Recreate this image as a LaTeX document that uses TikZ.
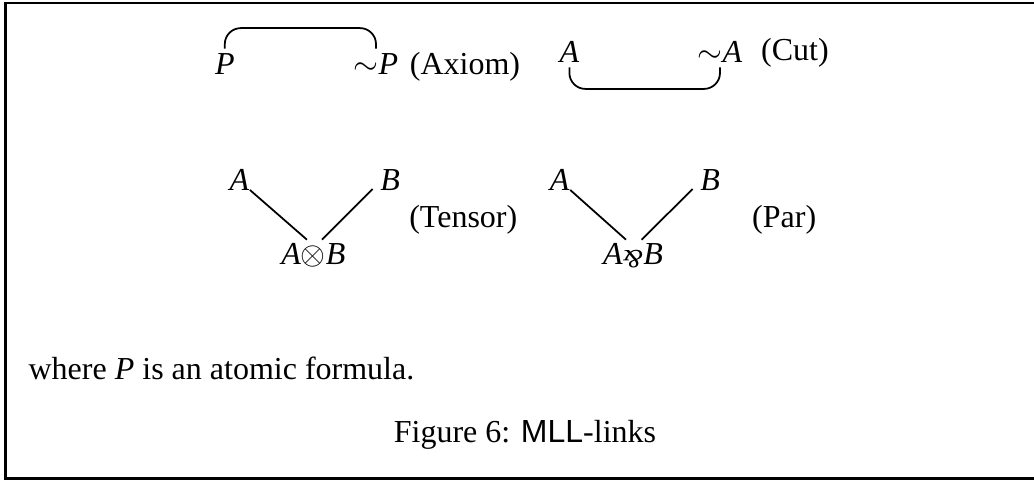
\documentclass[tikz,border=0pt]{standalone}
\usepackage{fontspec}
\setmainfont{Liberation Serif}
\setsansfont{Liberation Sans}
\usepackage{graphicx}
\newcommand{\parrsym}{\raisebox{-1.2pt}{\scalebox{0.82}{\rotatebox[origin=c]{180}{\textit{\&}}}}}

\begin{document}
\begin{tikzpicture}[x=0.3125pt,y=0.3125pt,
  fml/.style={inner sep=0pt,anchor=base},
  link/.style={line width=0.55pt},
  axlink/.style={link,rounded corners=5pt}]
\useasboundingbox (0,0) rectangle (1034,480);
% ----- frame, open on the right -----
\draw[line width=0.8pt] (1034,477) -- (5.3,477) -- (5.3,1.5) -- (1034,1.5);
% ----- axiom link -----
\node[fml] (axP) at (224.8,405) {\textit{P}};
\node[fml] (axnP) at (376,405) {$\sim$\textit{P}};
\node[fml] (axLbl) at (465,405) {(Axiom)};
\draw[axlink] ([yshift=1.5pt]axP.north) -- ++(0,20.5) -| ([yshift=1.5pt]axnP.north);
% ----- cut link -----
\node[fml] (cutA) at (569.4,417) {\textit{A}};
\node[fml] (cutnA) at (720,417) {$\sim$\textit{A}};
\node[fml] (cutLbl) at (795,419) {(Cut)};
\draw[axlink] ([yshift=-1.15pt]cutA.south) -- ++(0,-21.6) -| ([yshift=-1.15pt]cutnA.south);
% ----- tensor link -----
\node[fml] (tenA) at (239.4,289.3) {\textit{A}};
\node[fml] (tenB) at (390.1,289.3) {\textit{B}};
\node[fml] (tenAB) at (313.3,215.7) {\textit{A}$\otimes$\textit{B}};
\node[fml] (tenLbl) at (463.3,252.5) {(Tensor)};
\draw[link] ([yshift=0.44pt]tenA.south east) -- ([xshift=-2pt,yshift=0.9pt]tenAB.north);
\draw[link] ([xshift=-2.2pt,yshift=0.75pt]tenB.south west) -- ([xshift=2.7pt,yshift=0.9pt]tenAB.north);
% ----- par link -----
\node[fml] (parA) at (559.7,289.3) {\textit{A}};
\node[fml] (parB) at (710.1,289.3) {\textit{B}};
\node[fml] (parAB) at (633,215.7) {\textit{A}\parrsym\textit{B}};
\node[fml] (parLbl) at (784.2,252.5) {(Par)};
\draw[link] ([yshift=0.44pt]parA.south east) -- ([xshift=-2.2pt,yshift=0.9pt]parAB.north);
\draw[link] ([xshift=-2.2pt,yshift=0.75pt]parB.south west) -- ([xshift=2.7pt,yshift=0.9pt]parAB.north);
% ----- remark and caption -----
\node[fml,anchor=base west] (note) at (28,100) {where \textit{P} is an atomic formula.};
\node[fml] (caption) at (525,37) {Figure 6: \textsf{MLL}-links};
\end{tikzpicture}
\end{document}
